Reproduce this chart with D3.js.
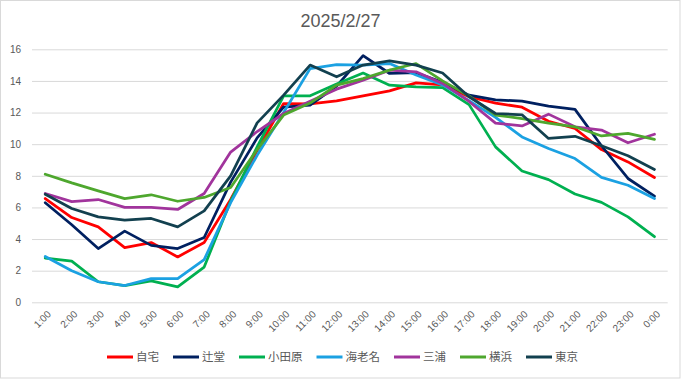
<!DOCTYPE html>
<html>
<head>
<meta charset="utf-8">
<script src="https://cdn.jsdelivr.net/npm/d3@7"></script>
<style>
  html, body { margin: 0; padding: 0; background: #fff; }
  svg { display: block; }
  text { font-family: "Liberation Sans", Arial, "Noto Sans CJK JP", sans-serif; fill: #595959; }
</style>
</head>
<body>
<svg id="chart" width="681" height="379"></svg>
<script>
const title = "2025/2/27";
const hours = ["1:00","2:00","3:00","4:00","5:00","6:00","7:00","8:00","9:00","10:00","11:00","12:00",
               "13:00","14:00","15:00","16:00","17:00","18:00","19:00","20:00","21:00","22:00","23:00","0:00"];
const yTicks = [0, 2, 4, 6, 8, 10, 12, 14, 16];

const seriesNames = ["自宅", "辻堂", "小田原", "海老名", "三浦", "横浜", "東京"];
const seriesColors = ["#FF0000", "#002060", "#00B050", "#1BA1E2", "#A1349C", "#4EA72E", "#12404F"];

const jitaku   = [6.56, 5.36, 4.77, 3.46, 3.78, 2.87, 3.78, 6.5, 9.6, 12.57, 12.55, 12.74, 13.06, 13.37, 13.88, 13.75, 13.0, 12.6, 12.34, 11.45, 10.99, 9.66, 8.88, 7.89];
const tsujido  = [6.3, 4.9, 3.4, 4.5, 3.6, 3.4, 4.1, 7.6, 10.4, 12.35, 12.47, 13.67, 15.6, 14.47, 14.52, 13.92, 13.1, 12.8, 12.72, 12.4, 12.2, 9.9, 7.83, 6.71];
const odawara  = [2.8, 2.6, 1.3, 1.06, 1.35, 0.97, 2.23, 6.4, 9.83, 13.06, 13.06, 13.8, 14.5, 13.73, 13.63, 13.58, 12.5, 9.83, 8.3, 7.76, 6.85, 6.32, 5.4, 4.15];
const ebina    = [2.9, 2.0, 1.3, 1.06, 1.5, 1.5, 2.7, 6.3, 9.3, 12.0, 14.78, 15.03, 15.0, 15.1, 14.37, 13.75, 12.75, 11.7, 10.46, 9.73, 9.09, 7.9, 7.4, 6.56];
const miura    = [6.88, 6.37, 6.5, 6.0, 6.0, 5.87, 6.88, 9.5, 10.8, 11.94, 12.72, 13.48, 14.05, 14.68, 14.58, 13.84, 12.7, 11.33, 11.15, 11.9, 11.1, 10.89, 10.09, 10.63];
const yokohama = [8.1, 7.55, 7.05, 6.56, 6.8, 6.39, 6.63, 7.26, 9.66, 11.84, 12.6, 13.73, 14.15, 14.68, 15.1, 14.0, 13.05, 11.84, 11.62, 11.33, 11.1, 10.52, 10.68, 10.3];
const tokyo    = [6.83, 5.93, 5.4, 5.2, 5.3, 4.77, 5.78, 8.0, 11.35, 13.1, 15.0, 14.26, 15.0, 15.27, 15.0, 14.5, 13.0, 11.94, 11.86, 10.36, 10.5, 9.9, 9.27, 8.4];

const seriesValues = [jitaku, tsujido, odawara, ebina, miura, yokohama, tokyo];

const W = 681, H = 379;
const plot = { left: 32, right: 667.7, top: 49.3, bottom: 302.3 };

const svg = d3.select("#chart");

// chart border
svg.append("rect")
  .attr("x", 0.5).attr("y", 0.5)
  .attr("width", W - 1.5).attr("height", H - 1.5)
  .attr("fill", "#fff").attr("stroke", "#d9d9d9").attr("stroke-width", 1);

// title
svg.append("text")
  .attr("x", 340.5).attr("y", 27)
  .attr("text-anchor", "middle")
  .style("font-size", "18px")
  .text(title);

const x = d3.scaleBand().domain(hours).range([plot.left, plot.right]);
const y = d3.scaleLinear().domain([0, 16]).range([plot.bottom, plot.top]);
const cx = d => x(d) + x.bandwidth() / 2;

// gridlines + y axis
const yAxis = d3.axisLeft(y).tickValues(yTicks).tickSize(-(plot.right - plot.left)).tickPadding(11);
const gy = svg.append("g").attr("transform", `translate(${plot.left},0)`).call(yAxis);
gy.select(".domain").remove();
gy.selectAll(".tick line").attr("stroke", "#d9d9d9").attr("stroke-width", 1);
gy.selectAll(".tick text").style("font-size", "10px").attr("fill", "#595959")
  .style("font-family", '"Liberation Sans", Arial, sans-serif');

// x axis labels
const xAxis = d3.axisBottom(x).tickSize(0).tickPadding(0);
const gx = svg.append("g").attr("transform", `translate(0,${plot.bottom})`).call(xAxis);
gx.select(".domain").remove();
gx.selectAll(".tick text")
  .style("font-size", "10px").attr("fill", "#595959")
  .style("font-family", '"Liberation Sans", Arial, sans-serif')
  .attr("text-anchor", "end")
  .attr("y", 0).attr("dy", "0.35em")
  .attr("transform", "translate(4,10) rotate(-45)");

// lines
const line = d3.line().x((d, i) => cx(hours[i])).y(d => y(d));
seriesValues.forEach((vals, k) => {
  svg.append("path")
    .datum(vals)
    .attr("fill", "none")
    .attr("stroke", seriesColors[k])
    .attr("stroke-width", 2.75)
    .attr("stroke-linejoin", "round")
    .attr("stroke-linecap", "round")
    .attr("d", line);
});

// legend
const legY = 357;
const lineLen = 26, gapLT = 3, gapItem = 14;
const leg = svg.append("g");
const items = seriesNames.map((name, k) => {
  const g = leg.append("g");
  g.append("line").attr("x1", 0).attr("x2", lineLen).attr("y1", 0).attr("y2", 0)
    .attr("stroke", seriesColors[k]).attr("stroke-width", 3);
  const t = g.append("text").attr("x", lineLen + gapLT).attr("y", 0).attr("dy", "0.36em")
    .style("font-size", "11.5px")
    .style("font-family", '"Noto Sans CJK JP", sans-serif')
    .text(name);
  return { g, w: lineLen + gapLT + t.node().getComputedTextLength() };
});
const total = d3.sum(items, d => d.w) + gapItem * (items.length - 1);
let cur = 342.5 - total / 2;
items.forEach(it => {
  it.g.attr("transform", `translate(${cur},${legY})`);
  cur += it.w + gapItem;
});
</script>
</body>
</html>
